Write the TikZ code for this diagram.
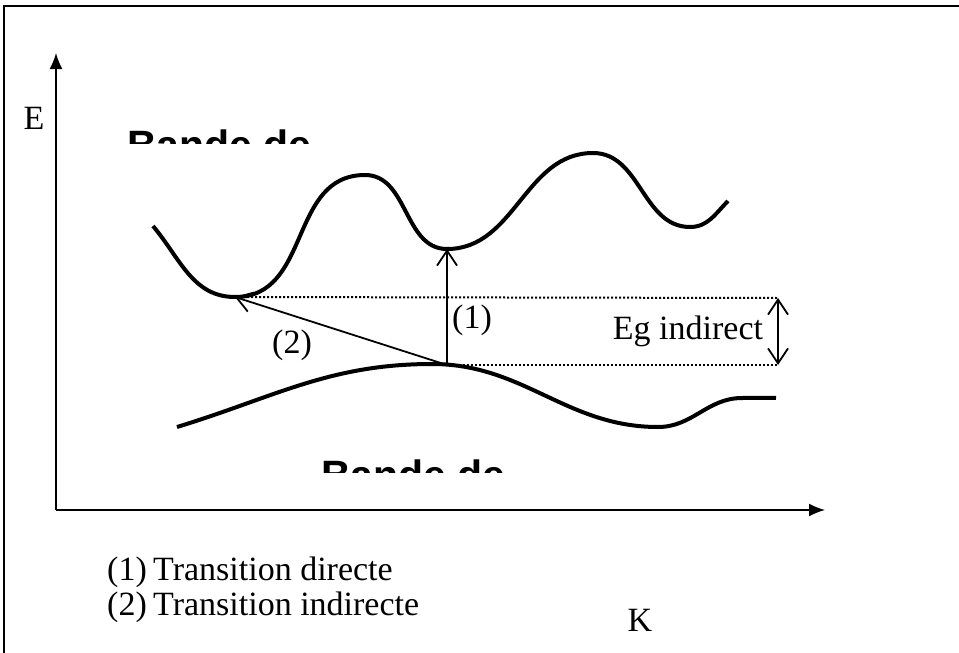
\documentclass[tikz,border=0pt]{standalone}
\usepackage{fontspec}
\setmainfont{Liberation Serif}
\newfontfamily\bandfont{Liberation Sans}[BoldFont={Liberation Sans Bold}]
\usetikzlibrary{arrows.meta}
\begin{document}
\begin{tikzpicture}[x=1pt,y=1pt,
  lbl/.style={inner sep=0pt, font=\fontsize{34}{40}\selectfont},
  bandtext/.style={inner sep=0pt, font=\bandfont\bfseries\fontsize{41}{48}\selectfont},
  band/.style={line width=4pt},
  axis/.style={line width=1.6pt, -{Latex[length=16pt,width=13pt]}},
  trans/.style={line width=1.8pt, -{Straight Barb[length=15pt,width=20pt]}},
  level/.style={line width=2pt, dash pattern=on 2pt off 2pt},
  gap/.style={line width=1.8pt, {Straight Barb[length=15pt,width=20pt]}-{Straight Barb[length=15pt,width=20pt]}}]
\useasboundingbox (0,0) rectangle (959,-653);
% frame
\draw[line width=1.5pt] (4,-6) rectangle (990,-690);
% axes
\coordinate (O) at (56,-510);
\coordinate (Etop) at (56,-53);
\coordinate (Kend) at (825,-510);
\draw[axis] (O) -- (Etop);
\draw[axis] (O) -- (Kend);
\node[lbl] (E) at (34,-118) {E};
\node[lbl] (K) at (640,-620) {K};
% key points
\coordinate (cmin1) at (235,-297);
\coordinate (cmin2) at (447,-249);
\coordinate (vmax) at (447,-365);
\coordinate (g1) at (778,-298);
\coordinate (g2) at (778,-365);
% conduction band
\draw[band] (153,-226) to[out=-50,in=180] (cmin1) to[out=0,in=180,looseness=1.1] (365,-175)
  to[out=0,in=180] (cmin2) to[out=0,in=180] (593,-153) to[out=0,in=180] (690,-227)
  to[out=0,in=-135] (728,-201);
% valence band
\draw[band] (177,-427) to[out=17,in=180] (432,-364) to[out=0,in=180] (658,-427)
  to[out=0,in=180] (742,-398) to[out=0,in=178] (776,-398);
% levels
\draw[level] (cmin1) -- (g1);
\draw[level] (vmax) -- (g2);
\draw[gap] (g1) -- (g2);
\node[lbl] (eg) at (688,-331) {Eg indirect};
% transitions
\draw[trans] (vmax) -- (cmin2);
\draw[trans] (vmax) -- (cmin1);
\node[lbl] (t1) at (472,-320) {(1)};
\node[lbl] (t2) at (292,-345) {(2)};
% clipped band labels
\begin{scope}
\clip (100,-110) rectangle (560,-143);
\node[bandtext, anchor=base west] (bc) at (127,-159.5) {Bande de};
\end{scope}
\begin{scope}
\clip (300,-440) rectangle (560,-472);
\node[bandtext, anchor=base west] (bv) at (321,-489.5) {Bande de};
\end{scope}
% legend
\node[lbl, anchor=west] (leg1) at (107,-572) {\makebox[46pt][l]{(1)}Transition directe};
\node[lbl, anchor=west] (leg2) at (107,-607) {\makebox[46pt][l]{(2)}Transition indirecte};
\end{tikzpicture}
\end{document}
